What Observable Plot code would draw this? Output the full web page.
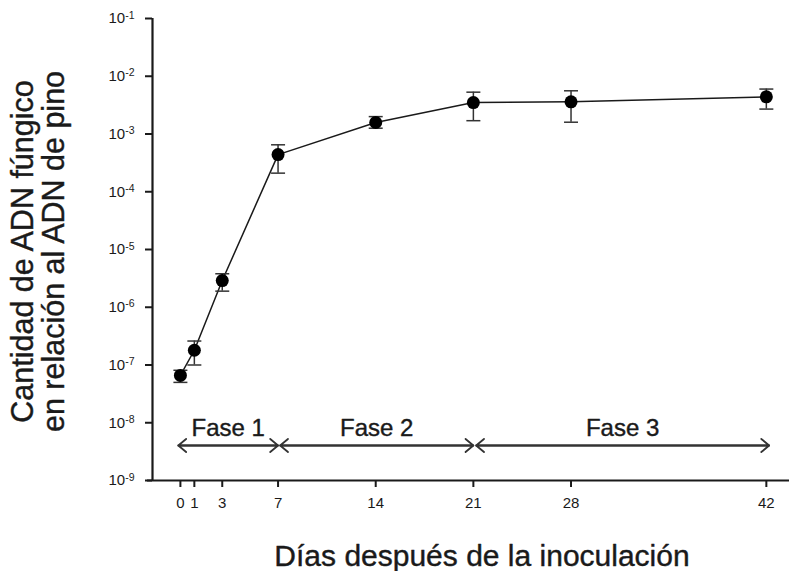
<!DOCTYPE html>
<html><head><meta charset="utf-8">
<script src="https://cdn.jsdelivr.net/npm/d3@7"></script>
<script src="https://cdn.jsdelivr.net/npm/@observablehq/plot@0.6"></script>
<style>body{margin:0;background:#fff}</style>
</head><body><div id="chart"></div>
<script>
const days = [0, 1, 3, 7, 14, 21, 28, 42];
const meanDNA  = [6.6e-8, 1.8e-7, 2.9e-6, 4.4e-4, 1.58e-3, 3.5e-3, 3.6e-3, 4.4e-3];
const upperDNA = [8.1e-8, 2.6e-7, 3.8e-6, 6.5e-4, 2.0e-3, 5.3e-3, 5.6e-3, 6.0e-3];
const lowerDNA = [5.0e-8, 1.0e-7, 1.9e-6, 2.1e-4, 1.26e-3, 1.7e-3, 1.6e-3, 2.7e-3];
const yTicks = [1e-9, 1e-8, 1e-7, 1e-6, 1e-5, 1e-4, 1e-3, 1e-2, 1e-1];
const phaseNames = ["Fase 1", "Fase 2", "Fase 3"];
const phaseStart = [-0.15, 7.15, 21.2];
const phaseEnd = [7, 21, 42.2];
const xLabel = "Días después de la inoculación";
const yLabelLines = ["Cantidad de ADN fúngico", "en relación al ADN de pino"];

const data = days.map((d, i) => ({day: d, mean: meanDNA[i], upper: upperDNA[i], lower: lowerDNA[i]}));
const phases = phaseNames.map((n, i) => ({name: n, start: phaseStart[i], end: phaseEnd[i], mid: (phaseStart[i] + phaseEnd[i]) / 2}));
const cap = {draw(ctx) { ctx.moveTo(-7, 0); ctx.lineTo(7, 0); }};
const ink = "#1a1a1a";

const chart = Plot.plot({
  width: 789, height: 571,
  marginLeft: 152, marginRight: 0, marginTop: 18, marginBottom: 91,
  style: {fontFamily: "'Liberation Sans', Arial, Helvetica, sans-serif", fontSize: "15px", color: ink, background: "#fff"},
  x: {domain: [-2, 43.66], ticks: days, tickSize: 7, tickPadding: 10, label: null, tickFormat: d => String(d)},
  y: {type: "log", domain: [1e-9, 1e-1], ticks: yTicks, tickSize: 7, tickPadding: 11, label: null,
      tickFormat: d => "10^" + Math.round(Math.log10(d))},
  marks: [
    Plot.ruleX([-2], {stroke: ink, strokeWidth: 2.2}),
    Plot.ruleY([1e-9], {stroke: ink, strokeWidth: 2.2, insetLeft: -5}),
    Plot.line(data, {x: "day", y: "mean", stroke: ink, strokeWidth: 1.5}),
    Plot.ruleX(data, {x: "day", y1: "lower", y2: "upper", stroke: "#333", strokeWidth: 1.5}),
    Plot.dot(data, {x: "day", y: "upper", symbol: cap, fill: "none", stroke: "#333", strokeWidth: 1.5}),
    Plot.dot(data, {x: "day", y: "lower", symbol: cap, fill: "none", stroke: "#333", strokeWidth: 1.5}),
    Plot.dot(data, {x: "day", y: "mean", r: 6.5, fill: "#000", stroke: "none"}),
    Plot.arrow(phases, {x1: "start", x2: "end", y1: 1e-9, y2: 1e-9, dy: -35, stroke: "#333", strokeWidth: 1.8, headLength: 8.5, headAngle: 80}),
    Plot.arrow(phases, {x1: "end", x2: "start", y1: 1e-9, y2: 1e-9, dy: -35, stroke: "#333", strokeWidth: 1.8, headLength: 8.5, headAngle: 80}),
    Plot.text(phases, {x: "mid", text: "name", frameAnchor: "bottom", dy: -45, lineAnchor: "bottom", fontSize: 24, fill: ink, stroke: ink, strokeWidth: 0.4}),
    Plot.text([xLabel], {frameAnchor: "bottom", textAnchor: "middle", dx: 11, dy: 85, lineAnchor: "bottom", fontSize: 30, fill: ink, stroke: ink, strokeWidth: 0.4}),
    Plot.text([yLabelLines[0]], {frameAnchor: "left", textAnchor: "middle", rotate: -90, dx: -120, dy: 2, lineAnchor: "bottom", fontSize: 30.5, fill: ink, stroke: ink, strokeWidth: 0.4}),
    Plot.text([yLabelLines[1]], {frameAnchor: "left", textAnchor: "middle", rotate: -90, dx: -89, dy: 2, lineAnchor: "bottom", fontSize: 30.5, fill: ink, stroke: ink, strokeWidth: 0.4})
  ]
});
document.getElementById("chart").appendChild(chart);

// tick labels: size and superscript exponents
d3.select(chart).selectAll("text").each(function() {
  const t = this.textContent;
  const sel = d3.select(this);
  if (/^\d+$/.test(t)) {
    this.style.setProperty("font-size", "15px", "important");
    return;
  }
  const m = /^10\^(-?\d+)$/.exec(t);
  if (!m) return;
  this.style.setProperty("font-size", "15px", "important");
  sel.text(null);
  sel.append("tspan").text("10");
  const sup = sel.append("tspan").attr("dy", "-0.45em").text(m[1]);
  sup.node().style.setProperty("font-size", "10.5px", "important");
});
// thicker tick marks
d3.select(chart).selectAll('g[aria-label$="-axis tick"] path, g[aria-label$="-axis tick"], .tick line').attr("stroke-width", 2);
</script>
</body></html>
